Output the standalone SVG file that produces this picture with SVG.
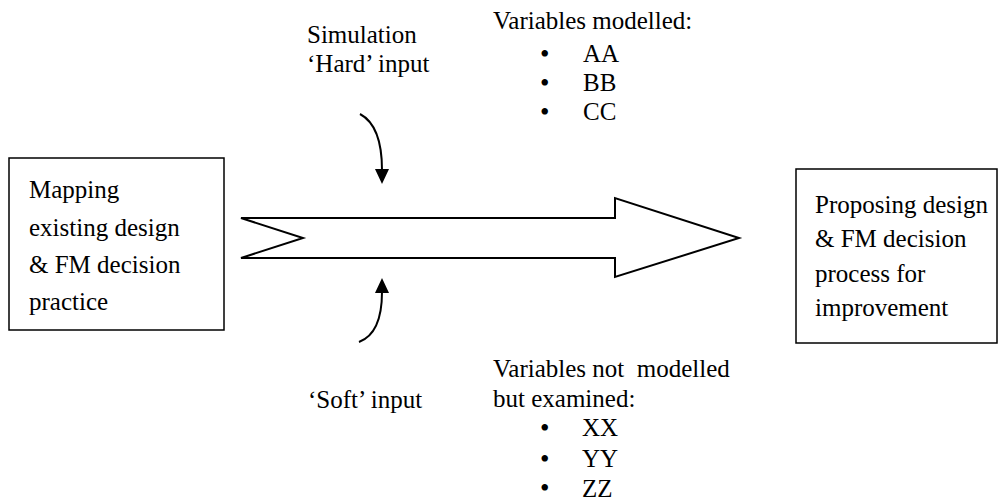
<svg xmlns="http://www.w3.org/2000/svg" width="1001" height="502" viewBox="0 0 1001 502">
<defs>
<style>
text{font-family:"Liberation Serif","Times New Roman",serif;font-size:25px;fill:#000}
text.b{font-size:27px}
.box{fill:#fff;stroke:#000;stroke-width:1.5}
.ln{fill:none;stroke:#000;stroke-width:2}
.head{fill:#000;stroke:none}
</style>
</defs>
<rect width="1001" height="502" fill="#fff"/>
<g id="node-left">
<rect class="box" x="9" y="158" width="215" height="172"/>
<text x="29" y="198">Mapping</text>
<text x="29" y="236">existing design</text>
<text x="29" y="273">&amp; FM decision</text>
<text x="29" y="310">practice</text>
</g>
<g id="node-right">
<rect class="box" x="796" y="169" width="201" height="174"/>
<text x="815" y="213">Proposing design</text>
<text x="815" y="247">&amp; FM decision</text>
<text x="815" y="282">process for</text>
<text x="815" y="316">improvement</text>
</g>
<g id="big-arrow">
<path class="ln" d="M241,218 L615,218 L615,198 L739,238 L615,277 L615,258 L241,258 L303,238 Z" stroke-linejoin="miter"/>
</g>
<g id="connectors">
<path class="ln" d="M360,114 C375,122 382,142 382,170"/>
<path class="head" d="M375,169 L389,169 L382,184 Z"/>
<path class="ln" d="M359,342 C375,336 382,318 382,292"/>
<path class="head" d="M375,293 L389,293 L382,278 Z"/>
</g>
<g id="label-hard">
<text x="307" y="43">Simulation</text>
<text x="307" y="72">‘Hard’ input</text>
</g>
<g id="label-modelled">
<text x="493" y="29">Variables modelled:</text>
<text class="b" x="540" y="63">•</text><text x="583" y="62">AA</text>
<text class="b" x="540" y="92">•</text><text x="583" y="91">BB</text>
<text class="b" x="540" y="121">•</text><text x="583" y="120">CC</text>
</g>
<g id="label-soft">
<text x="308" y="408">‘Soft’ input</text>
</g>
<g id="label-not-modelled">
<text x="493" y="377" xml:space="preserve">Variables not  modelled</text>
<text x="493" y="407">but examined:</text>
<text class="b" x="540" y="437">•</text><text x="582" y="436">XX</text>
<text class="b" x="540" y="468">•</text><text x="582" y="467">YY</text>
<text class="b" x="540" y="497">•</text><text x="582" y="497">ZZ</text>
</g>
</svg>
